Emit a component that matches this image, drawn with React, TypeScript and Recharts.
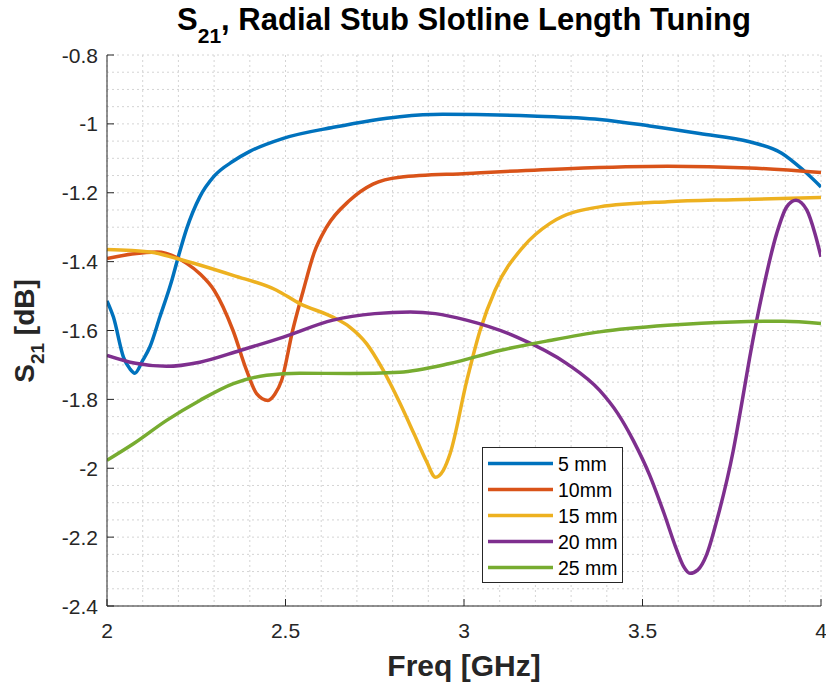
import React from 'react';
import { LineChart, Line, XAxis, YAxis, CartesianGrid, Legend } from 'recharts';

const FONT = '"Liberation Sans", Arial, Helvetica, sans-serif';

const seriesNames = ['5 mm', '10mm', '15 mm', '20 mm', '25 mm'];
const seriesColors = ['#0072BD', '#D95319', '#EDB120', '#7E2F8E', '#77AC30'];

// 5 mm
const freq5 = [2.0, 2.018, 2.046, 2.064, 2.078, 2.1, 2.12, 2.148, 2.18, 2.2, 2.223, 2.26, 2.3, 2.354, 2.4, 2.494, 2.634, 2.82, 2.94, 3.19, 3.38, 3.52, 3.66, 3.8, 3.89, 3.95, 4.0];
const s21_5 = [-1.514, -1.561, -1.677, -1.711, -1.724, -1.687, -1.648, -1.561, -1.46, -1.385, -1.305, -1.212, -1.152, -1.108, -1.08, -1.042, -1.01, -0.979, -0.972, -0.977, -0.987, -1.006, -1.028, -1.052, -1.085, -1.134, -1.183];

// 10mm
const freq10 = [2.0, 2.07, 2.14, 2.223, 2.26, 2.3, 2.353, 2.391, 2.419, 2.451, 2.47, 2.489, 2.52, 2.55, 2.58, 2.615, 2.68, 2.745, 2.82, 3.01, 3.29, 3.57, 3.8, 4.0];
const s21_10 = [-1.391, -1.378, -1.372, -1.405, -1.435, -1.483, -1.6, -1.716, -1.783, -1.803, -1.785, -1.745, -1.6, -1.483, -1.375, -1.3, -1.222, -1.175, -1.155, -1.144, -1.13, -1.123, -1.128, -1.141];

// 15 mm
const freq15 = [2.0, 2.12, 2.195, 2.353, 2.475, 2.54, 2.634, 2.68, 2.727, 2.774, 2.82, 2.86, 2.895, 2.92, 2.942, 2.961, 3.008, 3.045, 3.087, 3.166, 3.241, 3.38, 3.57, 3.755, 4.0];
const s21_15 = [-1.365, -1.372, -1.391, -1.44, -1.483, -1.522, -1.562, -1.59, -1.638, -1.716, -1.81, -1.9, -1.98, -2.026, -2.006, -1.958, -1.745, -1.6, -1.483, -1.357, -1.289, -1.241, -1.226, -1.22, -1.214];

// 20 mm
const freq20 = [2.0, 2.08, 2.167, 2.26, 2.373, 2.494, 2.633, 2.75, 2.85, 2.92, 3.007, 3.148, 3.288, 3.38, 3.43, 3.474, 3.52, 3.56, 3.595, 3.615, 3.633, 3.655, 3.68, 3.708, 3.754, 3.78, 3.8, 3.838, 3.876, 3.904, 3.93, 3.96, 3.983, 4.0];
const s21_20 = [-1.672, -1.695, -1.704, -1.692, -1.658, -1.619, -1.57, -1.551, -1.546, -1.551, -1.57, -1.619, -1.696, -1.774, -1.84, -1.919, -2.02, -2.13, -2.235, -2.285, -2.305, -2.295, -2.25, -2.152, -1.95, -1.8, -1.68, -1.48, -1.318, -1.241, -1.222, -1.25, -1.318, -1.386];

// 25 mm
const freq25 = [2.0, 2.074, 2.167, 2.26, 2.354, 2.447, 2.54, 2.68, 2.82, 2.96, 3.1, 3.24, 3.38, 3.57, 3.754, 3.894, 4.0];
const s21_25 = [-1.977, -1.929, -1.861, -1.803, -1.754, -1.73, -1.724, -1.725, -1.721, -1.696, -1.658, -1.629, -1.604, -1.585, -1.575, -1.573, -1.58];

const xTicks = [2, 2.5, 3, 3.5, 4];
const yTicks = [-0.8, -1, -1.2, -1.4, -1.6, -1.8, -2, -2.2, -2.4];
const xGrid = Array.from({ length: 21 }, (_, i) => Math.round((2 + i * 0.1) * 100) / 100);
const yGrid = Array.from({ length: 33 }, (_, i) => Math.round((-0.8 - i * 0.05) * 100) / 100);

const toPts = (fs: number[], vs: number[]) => fs.map((f, i) => ({ f, v: vs[i] }));
const seriesData = [
  toPts(freq5, s21_5),
  toPts(freq10, s21_10),
  toPts(freq15, s21_15),
  toPts(freq20, s21_20),
  toPts(freq25, s21_25),
];

const AX = '#262626';
const TL = 7;
const fmt = (v: number) => String(Math.round(v * 10) / 10);

const LeftTick = (p: any) => (
  <g>
    <line x1={p.x + 9} x2={p.x + 9 + TL} y1={p.y} y2={p.y} stroke={AX} strokeWidth={1} />
    <text x={p.x} y={p.y} textAnchor="end" dominantBaseline="central" fontSize={21} fill={AX} fontFamily={FONT}>
      {fmt(p.payload.value)}
    </text>
  </g>
);
const RightTick = (p: any) => (
  <line x1={p.x} x2={p.x - TL} y1={p.y} y2={p.y} stroke={AX} strokeWidth={1} />
);
const BottomTick = (p: any) => (
  <g>
    <line x1={p.x} x2={p.x} y1={p.y} y2={p.y - TL} stroke={AX} strokeWidth={1} />
    <text x={p.x} y={p.y + 32} textAnchor="middle" fontSize={21} fill={AX} fontFamily={FONT}>
      {fmt(p.payload.value)}
    </text>
  </g>
);
const TopTick = (p: any) => (
  <line x1={p.x} x2={p.x} y1={p.y} y2={p.y + TL} stroke={AX} strokeWidth={1} />
);

const renderLegend = (props: any) => {
  const payload = [...(props.payload || [])].sort(
    (a: any, b: any) => seriesNames.indexOf(a.value) - seriesNames.indexOf(b.value)
  );
  return (
    <div style={{ width: 141, height: 136, boxSizing: 'border-box', border: '1px solid #262626', background: '#fff' }}>
      <svg width={139} height={134} style={{ display: 'block' }}>
        {payload.map((e: any, i: number) => {
          const cy = 15.5 + i * 26;
          return (
            <g key={i}>
              <line x1={5} x2={70} y1={cy} y2={cy} stroke={e.color} strokeWidth={3.5} />
              <text x={75} y={cy} dominantBaseline="central" fontSize={19.5} fill="#000" fontFamily={FONT}>
                {e.value}
              </text>
            </g>
          );
        })}
      </svg>
    </div>
  );
};

export default function App() {
  return (
    <div style={{ position: 'absolute', left: 0, top: 0, width: 826, height: 686, background: '#fff' }}>
      <LineChart width={826} height={686} margin={{ top: 55, right: 5, bottom: 0, left: 0 }}>
        <CartesianGrid
          verticalValues={xGrid}
          horizontalValues={yGrid}
          stroke="#d4d4d4"
          strokeDasharray="2 3"
          strokeWidth={1}
        />
        <XAxis
          dataKey="f"
          type="number"
          domain={[2, 4]}
          ticks={xTicks}
          interval={0}
          allowDataOverflow
          height={80}
          tickSize={0}
          tickMargin={0}
          tickLine={false}
          axisLine={{ stroke: AX, strokeWidth: 1 }}
          tick={BottomTick}
        />
        <XAxis
          xAxisId="top"
          orientation="top"
          dataKey="f"
          type="number"
          domain={[2, 4]}
          ticks={xTicks}
          interval={0}
          allowDataOverflow
          height={0}
          tickSize={0}
          tickMargin={0}
          tickLine={false}
          axisLine={{ stroke: AX, strokeWidth: 1 }}
          tick={TopTick}
        />
        <YAxis
          type="number"
          domain={[-2.4, -0.8]}
          ticks={yTicks}
          interval={0}
          allowDataOverflow
          width={107}
          tickSize={0}
          tickMargin={9}
          tickLine={false}
          axisLine={{ stroke: AX, strokeWidth: 1 }}
          tick={LeftTick}
        />
        <YAxis
          yAxisId="right"
          orientation="right"
          type="number"
          domain={[-2.4, -0.8]}
          ticks={yTicks}
          interval={0}
          allowDataOverflow
          width={0}
          tickSize={0}
          tickMargin={0}
          tickLine={false}
          axisLine={{ stroke: AX, strokeWidth: 1 }}
          tick={RightTick}
        />
        {seriesData.map((d, i) => (
          <Line
            key={seriesNames[i]}
            data={d}
            dataKey="v"
            name={seriesNames[i]}
            type="monotone"
            stroke={seriesColors[i]}
            strokeWidth={3.5}
            dot={false}
            activeDot={false}
            isAnimationActive={false}
          />
        ))}
        <Legend
          layout="vertical"
          align="center"
          verticalAlign="middle"
          content={renderLegend}
          wrapperStyle={{ left: 482, top: 447, width: 141, height: 136 }}
        />
      </LineChart>
      <svg width={826} height={686} style={{ position: 'absolute', left: 0, top: 0, pointerEvents: 'none' }}>
        <text x={464} y={30} textAnchor="middle" fontSize={31} fontWeight="bold" fill="#000" fontFamily={FONT}>
          S<tspan fontSize={21} dy={13}>21</tspan><tspan dy={-13}>, Radial Stub Slotline Length Tuning</tspan>
        </text>
        <text x={464} y={676} textAnchor="middle" fontSize={30} fontWeight="bold" fill={AX} fontFamily={FONT}>
          Freq [GHz]
        </text>
        <text
          transform="translate(33.5,331) rotate(-90)"
          x={0}
          y={0}
          textAnchor="middle"
          fontSize={28}
          fontWeight="bold"
          fill={AX}
          fontFamily={FONT}
        >
          S<tspan fontSize={19} dy={10}>21</tspan><tspan dy={-10}> [dB]</tspan>
        </text>
      </svg>
    </div>
  );
}
